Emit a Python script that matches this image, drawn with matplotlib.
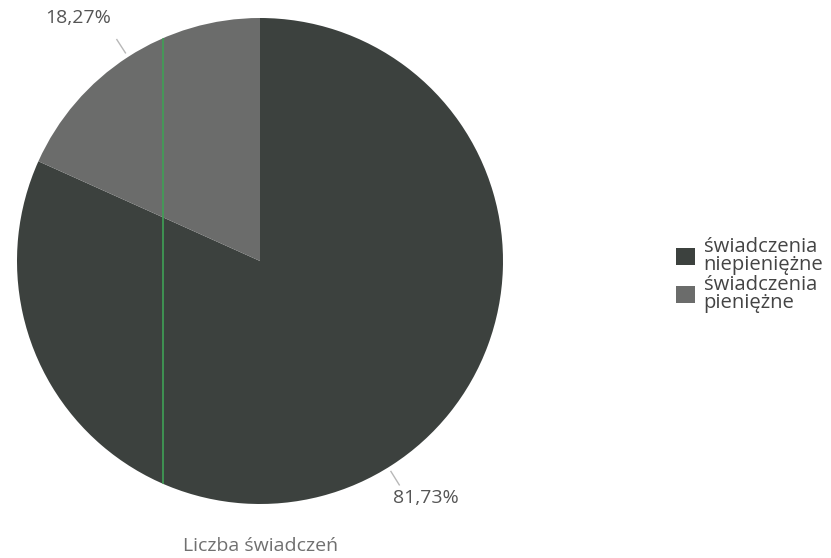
import numpy as np
import matplotlib.pyplot as plt

plt.rcParams['font.family'] = ['Open Sans', 'DejaVu Sans']

labels = ['świadczenia\nniepieniężne', 'świadczenia\npieniężne']
shares = [81.73, 18.27]
pct_text = ['81,73%', '18,27%']
colors = ['#3c413e', '#6b6c6b']

fig = plt.figure(figsize=(8.31, 5.58), dpi=100)
ax = fig.add_axes([17 / 831, 54 / 558, 486 / 831, 486 / 558])

wedges, _ = ax.pie(shares, colors=colors, startangle=90, counterclock=False,
                   radius=1.0, wedgeprops=dict(linewidth=0))

# leader lines + percentage labels (label offset from wedge middle, like the original)
offsets = [(-1, 2.0, 1.19), (0, 4, 1.25)]
for w, txt, (lead_off, lab_off, dist) in zip(wedges, pct_text, offsets):
    mid = (w.theta1 + w.theta2) / 2
    a = np.deg2rad(mid + lead_off)
    ax.plot([1.02 * np.cos(a), 1.085 * np.cos(a)], [1.02 * np.sin(a), 1.085 * np.sin(a)],
            color='#b8b8b8', lw=1)
    b = np.deg2rad(mid + lab_off)
    ax.text(dist * np.cos(b), dist * np.sin(b), txt, ha='center', va='center',
            fontsize=14, color='#555555')

# scanner streak
streak, = ax.plot([-0.4, -0.4], [-1.1, 1.1], color='#3fa055', lw=1.2)
streak.set_clip_path(plt.Circle((0, 0), 1.0, transform=ax.transData))

ax.set_xlim(-1, 1)
ax.set_ylim(-1, 1)
ax.set_aspect('equal')
ax.axis('off')

fig.text(261 / 831, 1 - 546 / 558, 'Liczba świadczeń', ha='center', va='center',
         fontsize=14, color='#707070')

leg = fig.legend(wedges, labels, loc='center left', bbox_to_anchor=(658 / 831, 1 - 275 / 558),
                 frameon=False, fontsize=14.6, handlelength=0.9, handleheight=0.9,
                 handletextpad=0.45, labelspacing=0.0, labelcolor='#444444')
for t in leg.get_texts():
    t.set_linespacing(0.87)

fig.savefig('out.png', dpi=100, facecolor='white')
